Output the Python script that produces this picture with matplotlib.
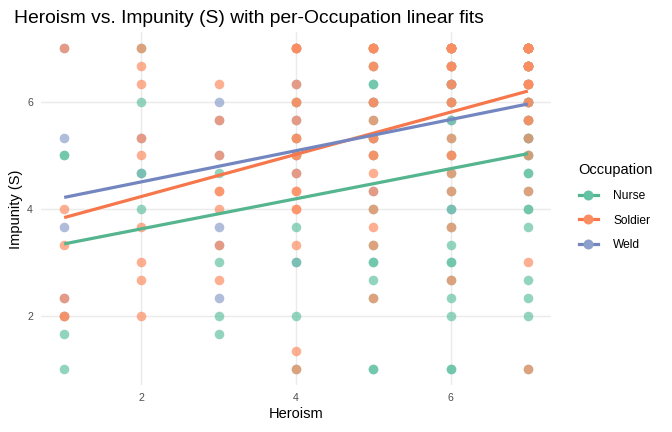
import numpy as np
import matplotlib
matplotlib.use("Agg")
import matplotlib.pyplot as plt
from matplotlib.lines import Line2D

plt.rcParams['font.family'] = ['Liberation Sans', 'DejaVu Sans']

groups = ["Nurse", "Soldier", "Weld"]
colors = {"Nurse": "#66c2a5", "Soldier": "#fc8d62", "Weld": "#8da0cb"}
line_colors = {"Nurse": "#55b58e", "Soldier": "#f6774b", "Weld": "#7386c0"}

# Heroism (x) -> list of Impunity (S) values per occupation
nurse = {
    1: [5, 5, 2, 1.667, 1],
    2: [7, 6, 4.667, 4],
    3: [4.667, 3, 2, 1.667],
    4: [7, 6, 5.333, 5, 3.667, 3, 2, 1],
    5: [7, 7, 6.667, 6.333, 6.333, 6, 5.667, 5.333, 5, 4, 3.333, 3, 3, 2.667, 2.333, 1, 1],
    6: [7, 7, 7, 6.667, 6.667, 6.333, 6.333, 6, 6, 5.667, 5.333, 5, 4.667, 4.333, 4, 3.667, 3.333, 3, 3, 2.667, 2.333, 2, 1, 1],
    7: [7, 7, 7, 7, 7, 6.667, 6.667, 6.667, 6.333, 6.333, 6, 6, 5.667, 5.667, 5.333, 5.333, 5, 5, 4.667, 4.667, 4.333, 4, 4, 3.667, 2.667, 2.333, 2, 1],
}
soldier = {
    1: [7, 4, 3.333, 2.333, 2, 2],
    2: [7, 6.667, 6.333, 5.333, 5, 3.667, 3, 2.667, 2],
    3: [6.333, 5.667, 5, 4.333, 4.333, 4, 3.333, 2.667],
    4: [7, 7, 7, 7, 6.333, 6, 6, 5.667, 5.333, 5.333, 5, 5, 4.667, 4.333, 4.333, 4, 4, 3.333, 1.333, 1],
    5: [7, 7, 7, 7, 7, 6.667, 6.667, 6, 6, 5.667, 5.333, 5.333, 5, 5, 4.667, 4.333, 4, 3.667, 3.333, 2.333],
    6: [7, 7, 7, 7, 7, 7, 7, 6.667, 6.667, 6.667, 6.333, 6.333, 6, 6, 5.333, 5, 5, 4.667, 4.333, 3.667, 2.667],
    7: [7, 7, 7, 7, 7, 7, 7, 7, 7, 7, 7, 6.667, 6.667, 6.667, 6.667, 6.667, 6.333, 6.333, 6.333, 6.333, 6, 6, 5.667, 5.667, 5.333, 5, 4.333, 3, 1],
}
weld = {
    1: [7, 5.333, 3.667, 2.333],
    2: [5.333, 4.667],
    3: [6, 5.667, 5, 3.667, 3.333, 2.333],
    4: [6.333, 5.667, 4.667, 3],
    5: [6, 5.333, 4.333],
    6: [7, 6.333, 5.667, 4],
    7: [7, 6.667, 6, 5.333],
}
data = {"Nurse": nurse, "Soldier": soldier, "Weld": weld}

x_ticks = [2, 4, 6]
y_ticks = [2, 4, 6]

fig = plt.figure(figsize=(7, 4.5), dpi=96)
ax = fig.add_axes([0.061, 0.108, 0.759, 0.817])

def flat(d):
    xs, ys = [], []
    for k, v in d.items():
        xs += [k] * len(v)
        ys += v
    return np.array(xs, float), np.array(ys, float)

draw_order = ["Weld", "Nurse", "Soldier"]
for g in draw_order:
    xs, ys = flat(data[g])
    ax.scatter(xs, ys, s=52, color=colors[g], alpha=0.7, linewidths=0, zorder=2)

for g in groups:
    xs, ys = flat(data[g])
    b, a = np.polyfit(xs, ys, 1)
    xl = np.array([xs.min(), xs.max()])
    ax.plot(xl, a + b * xl, color=line_colors[g], lw=2.4, zorder=3, solid_capstyle='butt')

ax.set_xlim(0.7, 7.3)
ax.set_ylim(0.7, 7.3)
ax.set_xticks(x_ticks)
ax.set_yticks(y_ticks)
ax.grid(True, color="#ebebeb", lw=1.1)
ax.set_axisbelow(True)
for s in ax.spines.values():
    s.set_visible(False)
ax.tick_params(length=0, labelsize=8, labelcolor="#4d4d4d", pad=6)
ax.set_xlabel("Heroism", fontsize=11, labelpad=3)
ax.set_ylabel("Impunity (S)", fontsize=11, labelpad=3)
ax.set_title("Heroism vs. Impunity (S) with per-Occupation linear fits", fontsize=14.4, loc="left", x=-0.052, pad=7)

handles = [Line2D([0], [0], color=line_colors[g], lw=2.4, marker='o', markersize=7.5,
                  markerfacecolor=colors[g], markeredgewidth=0) for g in groups]
leg = fig.legend(handles, groups, title="Occupation", loc="center left",
                 bbox_to_anchor=(0.845, 0.52), frameon=False, fontsize=9,
                 title_fontsize=11, handlelength=1.6, labelspacing=1.05, handletextpad=1.3)
leg._legend_box.align = "left"

fig.savefig("out.png", dpi=96)
